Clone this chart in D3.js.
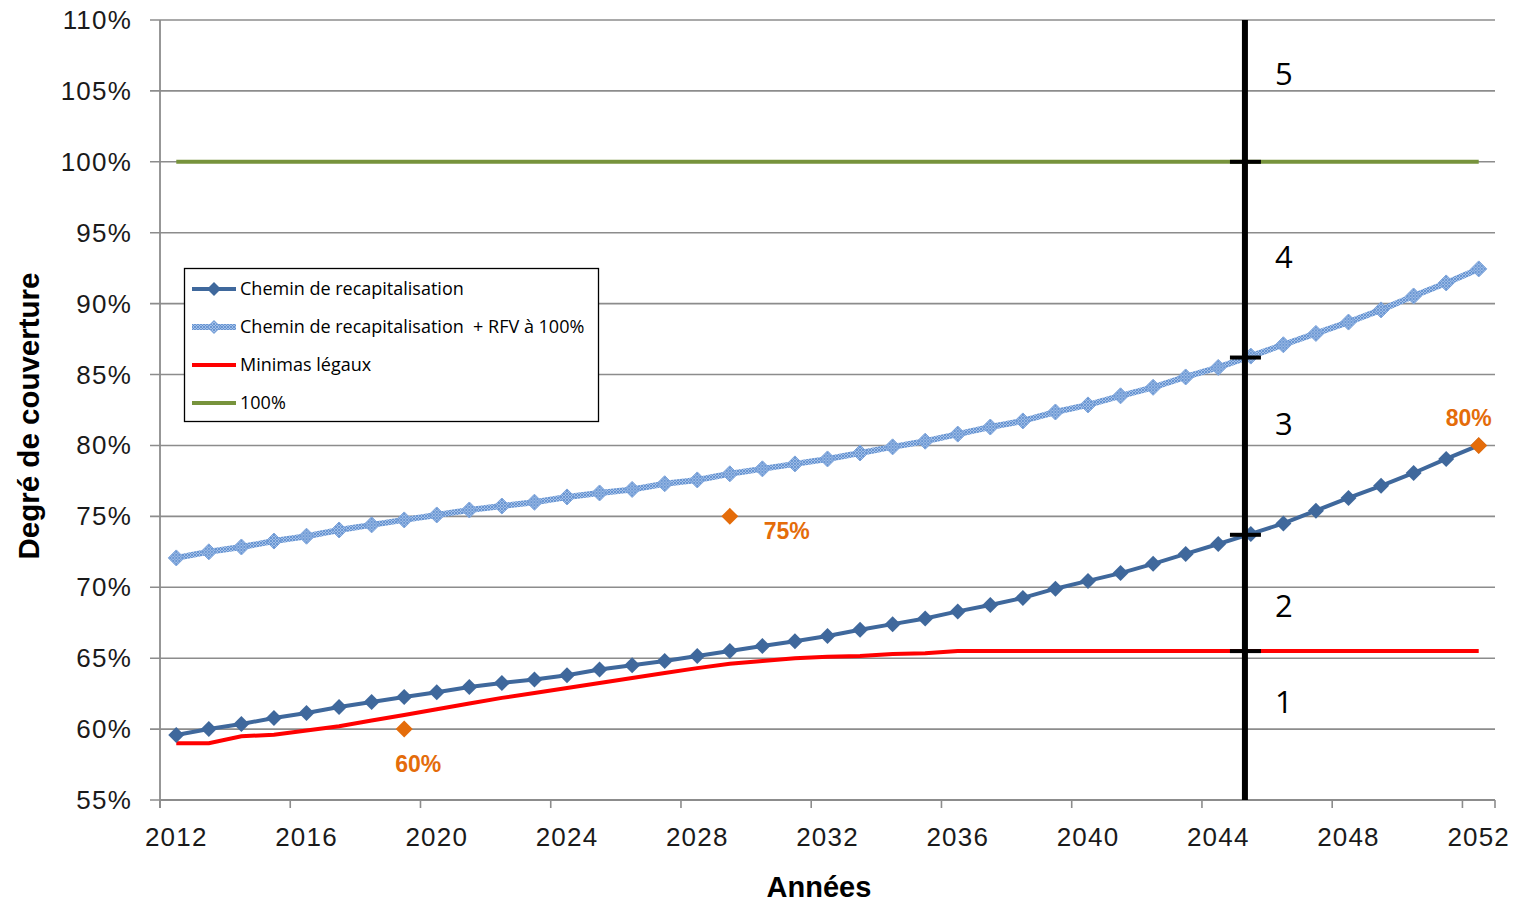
<!DOCTYPE html>
<html><head><meta charset="utf-8">
<script src="https://cdn.jsdelivr.net/npm/d3@7"></script>
<style>body{margin:0;background:#fff}svg{display:block}</style>
</head><body>
<svg id="c" width="1519" height="904"></svg>
<script>
const years = d3.range(2012, 2053);
const chemin = [59.58,60.0,60.36,60.78,61.14,61.56,61.91,62.26,62.6,62.97,63.25,63.5,63.8,64.2,64.5,64.8,65.15,65.5,65.86,66.2,66.57,67.0,67.4,67.8,68.3,68.75,69.25,69.9,70.45,71.0,71.65,72.35,73.05,73.76,74.5,75.4,76.3,77.15,78.06,79.05,80.0];
const cheminRFV = [72.07,72.5,72.84,73.26,73.6,74.04,74.4,74.75,75.1,75.45,75.73,76.0,76.37,76.65,76.9,77.3,77.57,78.0,78.35,78.7,79.05,79.47,79.9,80.3,80.8,81.3,81.73,82.36,82.86,83.5,84.1,84.83,85.5,86.3,87.1,87.9,88.7,89.56,90.54,91.46,92.45];
const minimas = [59.0,59.0,59.5,59.6,59.9,60.2,60.6,61.0,61.4,61.8,62.2,62.55,62.9,63.25,63.6,63.95,64.3,64.6,64.8,65.0,65.1,65.15,65.3,65.35,65.5,65.5,65.5,65.5,65.5,65.5,65.5,65.5,65.5,65.5,65.5,65.5,65.5,65.5,65.5,65.5,65.5];
const cent = years.map(() => 100);
const yTicks = d3.range(55, 111, 5);
const xTickLabels = [2012,2016,2020,2024,2028,2032,2036,2040,2044,2048,2052];
const targetYears = [2019, 2029, 2052];
const targetValues = [60, 75, 80];
const targetLabels = ["60%", "75%", "80%"];
const phaseYear = 2044.82;
const phaseBreaks = [100, 86.2, 73.7, 65.5];
const phaseLabels = ["5","4","3","2","1"];
const phaseLabelValues = [106.2, 93.3, 81.5, 68.7, 61.9];
const legendLabels = ["Chemin de recapitalisation", "Chemin de recapitalisation  + RFV à 100%", "Minimas légaux", "100%"];

const svg = d3.select("#c");
const L = 160, R = 1495, T = 20, B = 800;
const n = years.length;
const step = (R - L) / n;
const x = d3.scaleLinear().domain([2012 - 0.5, 2012 + n - 0.5]).range([L, R]);
const y = d3.scaleLinear().domain([55, 110]).range([B, T]);
const grey = "#8c8c8c";
const font = "'Liberation Sans', Arial, sans-serif";

const defs = svg.append("defs");
const pat = defs.append("pattern").attr("id","hatch").attr("patternUnits","userSpaceOnUse").attr("width",3).attr("height",3);
pat.append("rect").attr("width",3).attr("height",3).attr("fill","#a4c0e8");
pat.append("path").attr("d","M0,0L3,3M3,0L0,3").attr("stroke","#5a8bcd").attr("stroke-width",0.8);

const dia = s => `M0,${-s}L${s},0L0,${s}L${-s},0Z`;

svg.append("g").selectAll("line").data(yTicks).join("line")
  .attr("x1", L - 10).attr("x2", R).attr("y1", d => y(d)).attr("y2", d => y(d))
  .attr("stroke", grey).attr("stroke-width", 1.6);
svg.append("g").selectAll("text").data(yTicks).join("text")
  .attr("x", 132).attr("y", d => y(d) + 9).attr("text-anchor","end")
  .attr("font-family",font).attr("font-size",26).attr("letter-spacing",1.2)
  .attr("fill","#1a1a1a").text(d => d + "%");
svg.append("line").attr("x1",L).attr("x2",L).attr("y1",T).attr("y2",B+8).attr("stroke",grey).attr("stroke-width",1.8);
svg.append("line").attr("x1",L).attr("x2",R).attr("y1",B).attr("y2",B).attr("stroke",grey).attr("stroke-width",1.8);
const xb = d3.range(0, n + 1, 4).concat([n]);
svg.append("g").selectAll("line").data(xb).join("line")
  .attr("x1", d => L + d*step).attr("x2", d => L + d*step).attr("y1", B).attr("y2", B + 8)
  .attr("stroke", grey).attr("stroke-width", 1.6);
svg.append("g").selectAll("text").data(xTickLabels).join("text")
  .attr("x", d => x(d)).attr("y", 846).attr("text-anchor","middle")
  .attr("font-family",font).attr("font-size",26).attr("letter-spacing",1.2)
  .attr("fill","#1a1a1a").text(d => d);

svg.append("text").attr("x", 819).attr("y", 897).attr("text-anchor","middle")
  .attr("font-family",font).attr("font-weight","bold").attr("font-size",29).text("Années");
svg.append("text").attr("transform","translate(39,416) rotate(-90)").attr("text-anchor","middle")
  .attr("font-family",font).attr("font-weight","bold").attr("font-size",29.5).text("Degré de couverture");

const line = d3.line().x((d,i) => x(years[i])).y(d => y(d));

svg.append("path").datum(cent).attr("d", line).attr("fill","none").attr("stroke","#77933c").attr("stroke-width",4);
svg.append("path").datum(minimas).attr("d", line).attr("fill","none").attr("stroke","#ff0000").attr("stroke-width",4);
svg.append("path").datum(cheminRFV).attr("d", line).attr("fill","none").attr("stroke","url(#hatch)").attr("stroke-width",6);
svg.append("g").selectAll("path").data(cheminRFV).join("path")
  .attr("transform",(d,i) => `translate(${x(years[i])},${y(d)})`)
  .attr("d", dia(8)).attr("fill","url(#hatch)").attr("stroke","#7aa2da").attr("stroke-width",1);
svg.append("path").datum(chemin).attr("d", line).attr("fill","none").attr("stroke","#3f689c").attr("stroke-width",4);
svg.append("g").selectAll("path").data(chemin).join("path")
  .attr("transform",(d,i) => `translate(${x(years[i])},${y(d)})`)
  .attr("d", dia(8)).attr("fill","#3f689c");

const orange = "#e46c0a";
svg.append("g").selectAll("path").data(targetValues).join("path")
  .attr("transform",(d,i) => `translate(${x(targetYears[i])},${y(d)})`)
  .attr("d", dia(8.5)).attr("fill",orange);
const lblOff = [[14, 43], [57, 23], [-10, -19]];
svg.append("g").selectAll("text").data(targetLabels).join("text")
  .attr("x",(d,i) => x(targetYears[i]) + lblOff[i][0]).attr("y",(d,i) => y(targetValues[i]) + lblOff[i][1])
  .attr("text-anchor","middle").attr("font-family",font).attr("font-weight","bold")
  .attr("font-size",23).attr("fill",orange).text(d => d);

const px = x(phaseYear);
svg.append("line").attr("x1",px).attr("x2",px).attr("y1",T).attr("y2",B).attr("stroke","#000").attr("stroke-width",6);
svg.append("g").selectAll("line").data(phaseBreaks).join("line")
  .attr("x1",px-15).attr("x2",px+16).attr("y1",d=>y(d)).attr("y2",d=>y(d)).attr("stroke","#000").attr("stroke-width",4);
svg.append("g").selectAll("text").data(phaseLabels).join("text")
  .attr("x",px+39).attr("y",(d,i)=>y(phaseLabelValues[i])+11).attr("text-anchor","middle")
  .attr("font-family","'Open Sans', 'Noto Sans', sans-serif").attr("font-size",31).attr("fill","#000").text(d=>d);

const lg = svg.append("g");
lg.append("rect").attr("x",184.5).attr("y",268.5).attr("width",414).attr("height",153).attr("fill","#fff").attr("stroke","#000").attr("stroke-width",1.3);
const ly = [289, 327, 365, 403];
legendLabels.forEach((t,i) => {
  const yy = ly[i];
  const c = ["#3f689c","url(#hatch)","#ff0000","#77933c"][i];
  lg.append("line").attr("x1",192).attr("x2",236).attr("y1",yy).attr("y2",yy).attr("stroke",c).attr("stroke-width",i===1?6:4);
  if (i === 0) lg.append("path").attr("transform",`translate(214,${yy})`).attr("d",dia(7)).attr("fill","#3f689c");
  if (i === 1) lg.append("path").attr("transform",`translate(214,${yy})`).attr("d",dia(6.5)).attr("fill","url(#hatch)").attr("stroke","#7aa2da");
  lg.append("text").attr("x",240).attr("y",yy+6).attr("font-family","'Open Sans', 'Noto Sans', sans-serif").attr("font-size",18).attr("fill","#000").attr("xml:space","preserve").text(t);
});
</script>
</body></html>
